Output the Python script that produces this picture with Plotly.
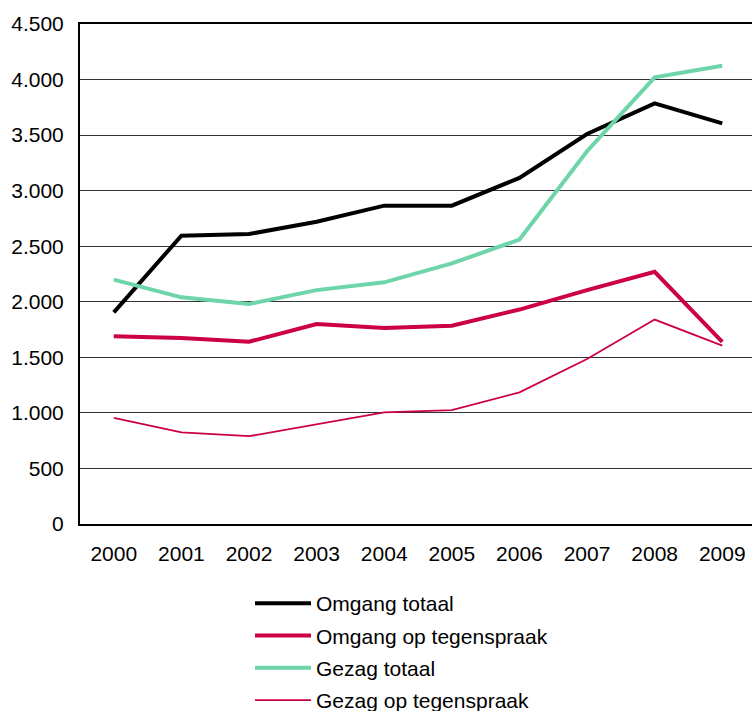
import plotly.graph_objects as go

years = ["2000", "2001", "2002", "2003", "2004", "2005", "2006", "2007", "2008", "2009"]
omgang_totaal = [1905, 2595, 2610, 2720, 2865, 2865, 3115, 3510, 3785, 3605]
omgang_tegenspraak = [1690, 1675, 1640, 1800, 1765, 1785, 1930, 2105, 2270, 1640]
gezag_totaal = [2200, 2040, 1980, 2105, 2175, 2345, 2560, 3355, 4020, 4125]
gezag_tegenspraak = [955, 825, 790, 900, 1005, 1025, 1185, 1485, 1840, 1605]

names = ["Omgang totaal", "Omgang op tegenspraak", "Gezag totaal", "Gezag op tegenspraak"]
colors = ["#000000", "#CC0044", "#6DD5A9", "#CC0044"]
widths = [4, 4, 4, 1.8]
series = [omgang_totaal, omgang_tegenspraak, gezag_totaal, gezag_tegenspraak]

font = "Liberation Sans, Arial, sans-serif"

fig = go.Figure()
for i, (n, c, w, s) in enumerate(zip(names, colors, widths, series)):
    fig.add_trace(go.Scatter(x=years, y=s, name=n, mode="lines", legendgroup=f"g{i}",
                             line=dict(color=c, width=w)))

fig.update_layout(
    width=752, height=711,
    margin=dict(l=80, r=0, t=24, b=187, autoexpand=False),
    paper_bgcolor="white", plot_bgcolor="white",
    font=dict(family=font, size=21, color="#000000"),
    showlegend=True,
    legend=dict(x=0.253, y=-0.118, xanchor="left", yanchor="top",
                bgcolor="rgba(0,0,0,0)", font=dict(size=21),
                itemwidth=56, tracegroupgap=2),
    xaxis=dict(type="category", range=[-0.5, 9.44], showgrid=False,
               showline=True, linecolor="#000000", linewidth=2, mirror=True,
               ticks="", ticklabelstandoff=10, zeroline=False),
    yaxis=dict(range=[0, 4500], tickvals=[0, 500, 1000, 1500, 2000, 2500, 3000, 3500, 4000, 4500],
               ticktext=["0", "500", "1.000", "1.500", "2.000", "2.500", "3.000", "3.500", "4.000", "4.500"],
               showgrid=True, gridcolor="#333333", gridwidth=1,
               showline=True, linecolor="#000000", linewidth=2,
               ticks="", ticklabelstandoff=10, zeroline=False),
)

fig.write_html("out.html", config={"displayModeBar": False},
               post_script="document.body.style.margin='0';document.body.style.overflow='hidden';")
